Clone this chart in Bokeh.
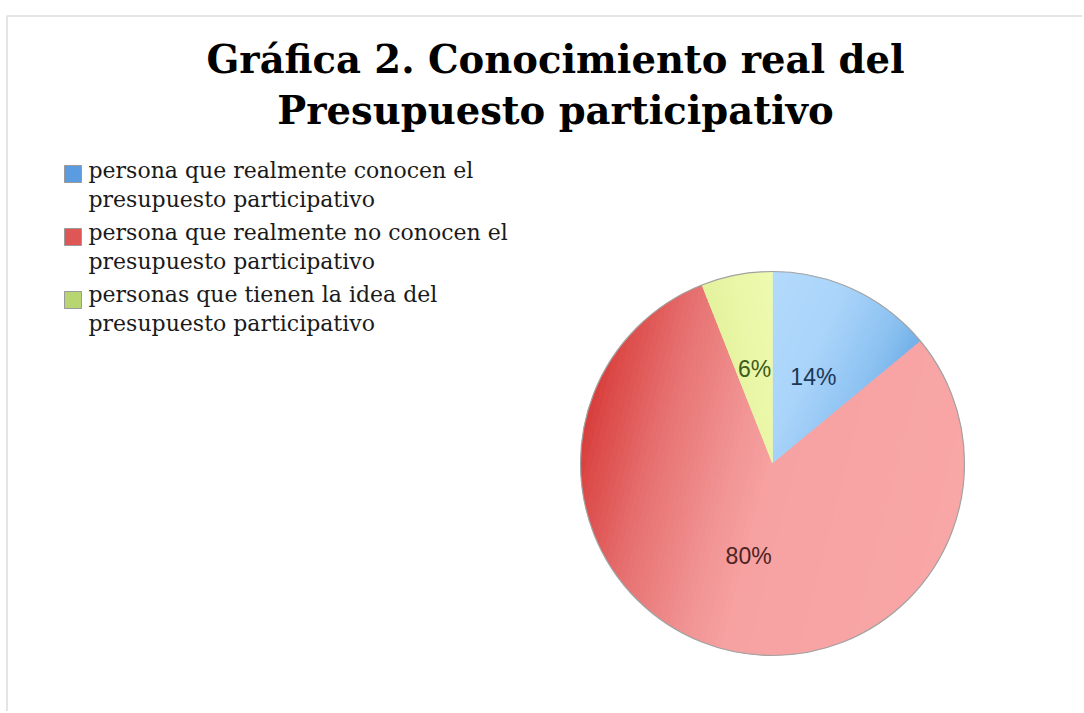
import math
import numpy as np
from bokeh.plotting import figure
from bokeh.models import ColumnDataSource, Range1d, BoxAnnotation
from bokeh.core.properties import value
from bokeh.embed import file_html
from bokeh.resources import INLINE

# ---------------- data ----------------
title_lines = ["Gráfica 2. Conocimiento real del", "Presupuesto participativo"]
categories = [
    "persona que realmente conocen el presupuesto participativo",
    "persona que realmente no conocen el presupuesto participativo",
    "personas que tienen la idea del presupuesto participativo",
]
legend_lines = [
    ["persona que realmente conocen el", "presupuesto participativo"],
    ["persona que realmente no conocen el", "presupuesto participativo"],
    ["personas que tienen la idea del", "presupuesto participativo"],
]
shares = [14, 80, 6]
pct_labels = ["14%", "80%", "6%"]

base_colors = ["#a6d1f8", "#f29a9a", "#e8f6a6"]
legend_colors = ["#5b9be0", "#de5656", "#b7d672"]
label_colors = ["#1d3857", "#4e2323", "#3e5c1c"]
# gradient stops per slice: (fraction across slice toward clockwise side, colour)
grad_stops = [
    [(0.0, "#b3dafc"), (0.45, "#aad4fa"), (0.8, "#8cc2f1"), (1.0, "#72b0e8")],
    [(0.0, "#f9a6a6"), (0.5, "#f7a2a2"), (0.62, "#f19292"), (0.8, "#e77272"), (0.95, "#dc4c4a"), (1.0, "#d73e3c")],
    [(0.0, "#e3f29c"), (0.5, "#eaf7a8"), (1.0, "#eefab0")],
]

# ---------------- layout ----------------
W, H = 1082, 711
OFF = 0          # canvas origin in the screenshot
YT = 713         # data y = YT - image y


def iy(y):
    return YT - y


p = figure(width=W, height=H, x_range=Range1d(OFF, OFF + W), y_range=Range1d(iy(OFF + H), iy(OFF)),
           output_backend="svg", toolbar_location=None, min_border=0,
           x_axis_location=None, y_axis_location=None, outline_line_color=None,
           background_fill_color="white", border_fill_color="white")
p.xgrid.visible = False
p.ygrid.visible = False

# frame border (top + left)
p.add_layout(BoxAnnotation(left=6.5, right=OFF + W + 50, top=iy(15.5), bottom=iy(OFF + H + 50),
                           fill_alpha=0, line_color="#a9a9a9", line_width=2))

# title
p.text(x=[555, 555], y=[iy(59), iy(110)], text=title_lines,
       text_font=value("DejaVu Serif"), text_font_style="bold", text_font_size="38.5px",
       text_align="center", text_baseline="alphabetic", text_color="#000000")

# ---------------- pie ----------------
cx, cy, R = 772, iy(463), 192
total = float(sum(shares))
starts, ends, mids = [], [], []
acc = 0.0
for s in shares:
    a0 = math.pi / 2 - 2 * math.pi * acc / total
    a1 = a0 - 2 * math.pi * s / total
    starts.append(a0)
    ends.append(a1)
    mids.append((a0 + a1) / 2)
    acc += s

src = ColumnDataSource(dict(cat=categories, share=shares, start=starts, end=ends, color=base_colors))
p.wedge(x=cx, y=cy, radius=R, start_angle="start", end_angle="end", direction="clock",
        fill_color="color", line_color=None, source=src)


def hex2rgb(h):
    h = h.lstrip("#")
    return np.array([int(h[i:i + 2], 16) for i in (0, 2, 4)], dtype=float)


def interp(stops, f):
    for (f0, c0), (f1, c1) in zip(stops[:-1], stops[1:]):
        if f <= f1:
            t = 0 if f1 == f0 else (f - f0) / (f1 - f0)
            c = hex2rgb(c0) * (1 - t) + hex2rgb(c1) * t
            return "#%02x%02x%02x" % tuple(int(round(v)) for v in c)
    return stops[-1][1]


def clip_half(pts, fn):
    out = []
    n = len(pts)
    for i in range(n):
        P, Q = pts[i], pts[(i + 1) % n]
        fp, fq = fn(P), fn(Q)
        if fp >= 0:
            out.append(P)
        if (fp >= 0) != (fq >= 0):
            t = fp / (fp - fq)
            out.append((P[0] + t * (Q[0] - P[0]), P[1] + t * (Q[1] - P[1])))
    return out


gx, gy, gc = [], [], []
NB = 70
for a0, a1, am, stops in zip(starts, ends, mids, grad_stops):
    angs = np.linspace(a0, a1, 160)
    poly = [(cx, cy)] + [(cx + R * math.cos(a), cy + R * math.sin(a)) for a in angs]
    u = (math.sin(am), -math.cos(am))  # clockwise direction across the slice
    ts = [(x - cx) * u[0] + (y - cy) * u[1] for x, y in poly]
    tmin, tmax = min(ts), max(ts)
    step = (tmax - tmin) / NB
    for k in range(NB):
        lo = tmin + k * step - 0.6
        hi = tmin + (k + 1) * step + 0.6
        band = clip_half(poly, lambda P: (P[0] - cx) * u[0] + (P[1] - cy) * u[1] - lo)
        if len(band) < 3:
            continue
        band = clip_half(band, lambda P: hi - ((P[0] - cx) * u[0] + (P[1] - cy) * u[1]))
        if len(band) < 3:
            continue
        gx.append([b[0] for b in band])
        gy.append([b[1] for b in band])
        gc.append(interp(stops, (k + 0.5) / NB))

p.patches(xs=gx, ys=gy, fill_color=gc, line_color=None)

# outline
p.arc(x=cx, y=cy, radius=R, start_angle=0, end_angle=2 * math.pi, line_color="#a3a3a3", line_width=1.2)

# data labels
lr = 0.5 * R
lsrc = ColumnDataSource(dict(x=[cx + lr * math.cos(m) for m in mids],
                             y=[cy + lr * math.sin(m) for m in mids],
                             t=pct_labels, c=label_colors))
p.text(x="x", y="y", text="t", text_color="c", source=lsrc,
       text_font=value("Liberation Sans"), text_font_size="23px",
       text_align="center", text_baseline="middle")

# ---------------- legend ----------------
sq_left, sq_size, sq_top0, sq_step = 64, 17, 165, 63
txt_x, base0, line_gap, entry_step = 88, 170, 28.5, 62
p.quad(left=[sq_left] * 3, right=[sq_left + sq_size] * 3,
       top=[iy(sq_top0 + i * sq_step) for i in range(3)],
       bottom=[iy(sq_top0 + i * sq_step + sq_size) for i in range(3)],
       fill_color=legend_colors, line_color="#9a9a9a", line_width=1)
lx, ly, lt = [], [], []
for i, lines in enumerate(legend_lines):
    for j, ln in enumerate(lines):
        lx.append(txt_x)
        ly.append(iy(base0 + i * entry_step + j * line_gap))
        lt.append(ln)
p.text(x=lx, y=ly, text=lt, text_font=value("DejaVu Serif"), text_font_size="22px",
       text_align="left", text_baseline="alphabetic", text_color="#1a1a1a")

open("out.html", "w").write(file_html(p, INLINE))
